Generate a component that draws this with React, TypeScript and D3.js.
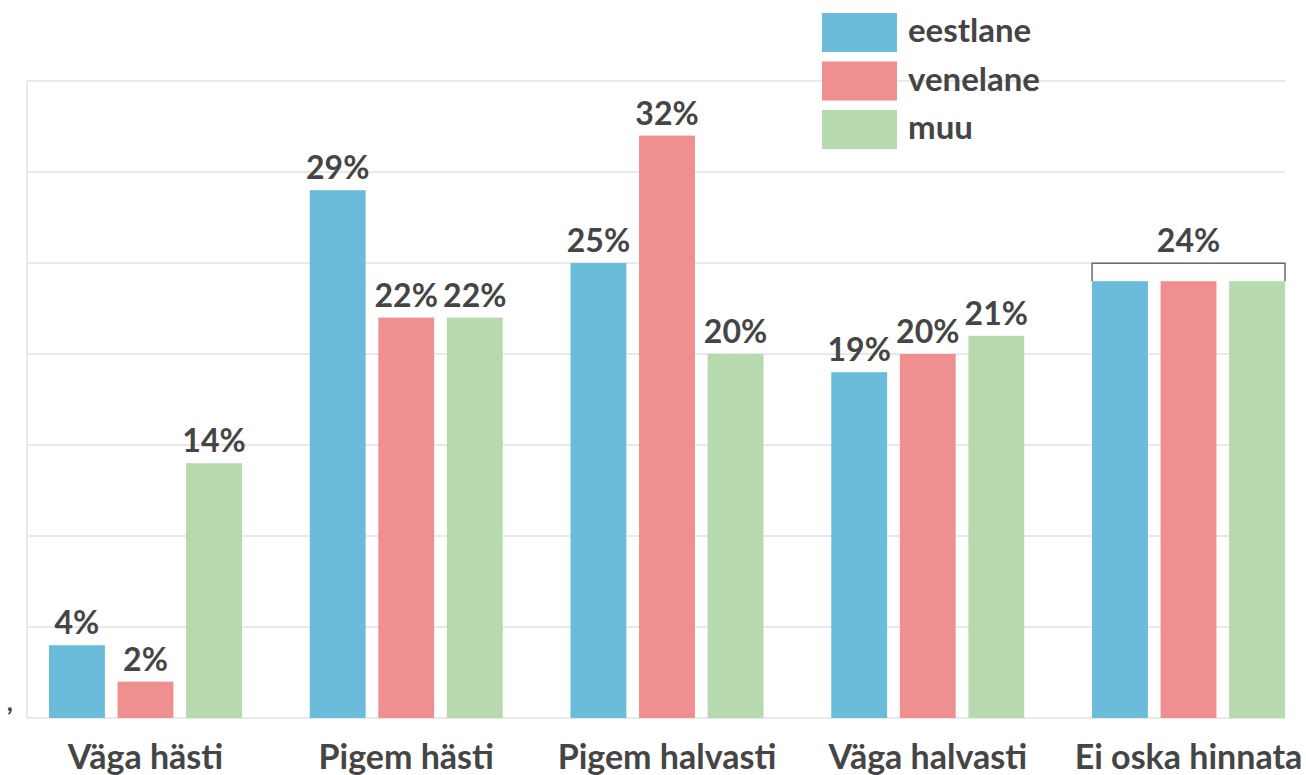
import React, { useEffect, useRef } from 'react';
import * as d3 from 'd3';

const categories = ['Väga hästi', 'Pigem hästi', 'Pigem halvasti', 'Väga halvasti', 'Ei oska hinnata'];
const seriesNames = ['eestlane', 'venelane', 'muu'];
const seriesColors = ['#6bbcdb', '#f08f8f', '#b7d9ae'];
const eestlane = [4, 29, 25, 19, 24];
const venelane = [2, 22, 32, 20, 24];
const muu = [14, 22, 20, 21, 24];
const gridTicks = [0, 5, 10, 15, 20, 25, 30, 35];
// last group shares one label over a bracket
const groupedLabelIndex = 4;

const W = 1306;
const H = 775;
const FONT = 'Lato, "Open Sans", sans-serif';
const TEXT = '#454545';

const App = () => {
  const svgRef = useRef(null);

  useEffect(() => {
    const svg = d3.select(svgRef.current);
    svg.selectAll('*').remove();

    const plotLeft = 27;
    const plotRight = 1285;
    const y = d3.scaleLinear().domain([0, 35]).range([718, 81]);
    const x0 = d3.scaleBand().domain(categories).range([49, 1285]).paddingInner(0.26).paddingOuter(0);
    const x1 = d3.scaleBand().domain(seriesNames).range([0, x0.bandwidth()]).paddingInner(0.185).paddingOuter(0);
    const values = [eestlane, venelane, muu];

    // gridlines
    svg
      .append('g')
      .selectAll('line')
      .data(gridTicks)
      .enter()
      .append('line')
      .attr('x1', plotLeft)
      .attr('x2', plotRight)
      .attr('y1', (d) => y(d))
      .attr('y2', (d) => y(d))
      .attr('stroke', '#e2e2e2')
      .attr('stroke-width', 1.5);

    svg
      .append('line')
      .attr('x1', plotLeft)
      .attr('x2', plotLeft)
      .attr('y1', y(35))
      .attr('y2', y(0))
      .attr('stroke', '#e2e2e2')
      .attr('stroke-width', 1.5);

    svg
      .append('text')
      .attr('x', 7)
      .attr('y', 711)
      .attr('fill', TEXT)
      .attr('font-family', FONT)
      .attr('font-size', 24)
      .attr('font-weight', 900)
      .text(',');

    const groups = svg
      .append('g')
      .selectAll('g')
      .data(categories)
      .enter()
      .append('g')
      .attr('transform', (d) => `translate(${x0(d)},0)`);

    groups.each(function (cat, ci) {
      const g = d3.select(this);
      seriesNames.forEach((s, si) => {
        const v = values[si][ci];
        g.append('rect')
          .attr('x', x1(s))
          .attr('y', y(v))
          .attr('width', x1.bandwidth())
          .attr('height', y(0) - y(v))
          .attr('fill', seriesColors[si]);
        if (ci !== groupedLabelIndex) {
          g.append('text')
            .attr('x', x1(s) + x1.bandwidth() / 2)
            .attr('y', y(v) - 11)
            .attr('text-anchor', 'middle')
            .attr('fill', TEXT)
            .attr('font-family', FONT)
            .attr('font-size', 32)
            .attr('font-weight', 700)
            .text(`${v}%`);
        }
      });

      if (ci === groupedLabelIndex) {
        const v = values[0][ci];
        const bw = x0.bandwidth();
        const top = y(v) - 18;
        g.append('path')
          .attr('d', `M0,${y(v)}V${top}H${bw}V${y(v)}`)
          .attr('fill', 'none')
          .attr('stroke', '#6b6b6b')
          .attr('stroke-width', 1.5);
        g.append('text')
          .attr('x', bw / 2)
          .attr('y', top - 11)
          .attr('text-anchor', 'middle')
          .attr('fill', TEXT)
          .attr('font-family', FONT)
          .attr('font-size', 32)
          .attr('font-weight', 700)
          .text(`${v}%`);
      }

      g.append('text')
        .attr('x', x0.bandwidth() / 2)
        .attr('y', 769)
        .attr('text-anchor', 'middle')
        .attr('fill', TEXT)
        .attr('font-family', FONT)
        .attr('font-size', 34)
        .attr('font-weight', 700)
        .text(cat);
    });

    // legend
    const legend = svg.append('g').attr('transform', 'translate(822,13)');
    seriesNames.forEach((s, i) => {
      legend
        .append('rect')
        .attr('x', 0)
        .attr('y', i * 48.5)
        .attr('width', 75)
        .attr('height', 39)
        .attr('fill', seriesColors[i]);
      legend
        .append('text')
        .attr('x', 86)
        .attr('y', i * 48.5 + 29)
        .attr('fill', TEXT)
        .attr('font-family', FONT)
        .attr('font-size', 33)
        .attr('font-weight', 700)
        .text(s);
    });
  }, []);

  return (
    <svg
      ref={svgRef}
      width={W}
      height={H}
      style={{ position: 'absolute', left: 0, top: 0, background: '#fff' }}
    />
  );
};

export default App;
